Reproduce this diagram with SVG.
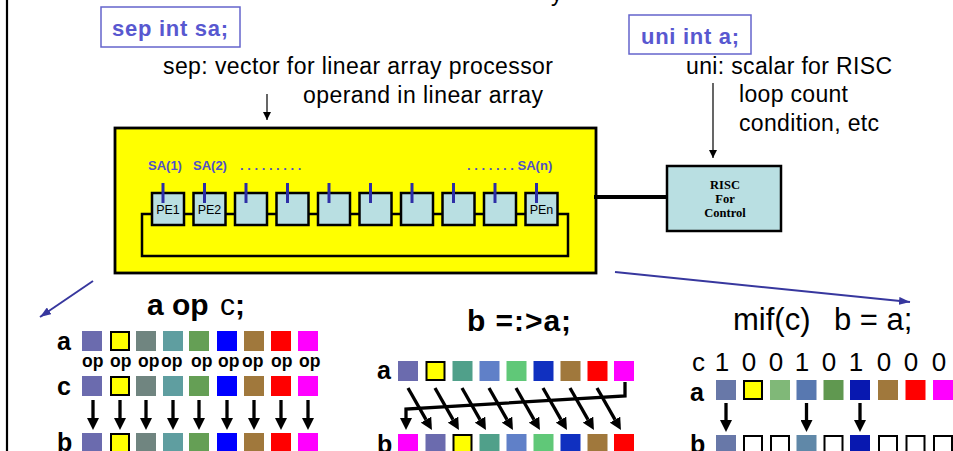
<svg xmlns="http://www.w3.org/2000/svg" width="953" height="451" viewBox="0 0 953 451">
  <style>
    .sans { font-family: "Liberation Sans", Arial, sans-serif; }
    .serif { font-family: "Liberation Serif", "Times New Roman", serif; }
    .decl-box { fill: #ffffff; stroke: #6464cc; stroke-width: 1.5; }
    .decl-text { font-family: "Liberation Sans", Arial, sans-serif; font-weight: bold; font-size: 22px; fill: #5858d0; }
    .note { font-family: "Liberation Sans", Arial, sans-serif; font-size: 23px; fill: #000; }
    .pe { fill: #b9dfe2; stroke: #000; stroke-width: 2.5; }
    .pe-label { font-family: "Liberation Sans", Arial, sans-serif; font-size: 12.5px; fill: #000; text-anchor: middle; }
    .tick { stroke: #2e2ea6; stroke-width: 3; }
    .sa { font-family: "Liberation Sans", Arial, sans-serif; font-weight: bold; font-size: 13px; fill: #5050c8; }
    .row { font-family: "Liberation Sans", Arial, sans-serif; font-weight: bold; font-size: 25px; fill: #000; }
    .title { font-family: "Liberation Sans", Arial, sans-serif; fill: #000; }
    .op { font-family: "Liberation Sans", Arial, sans-serif; font-weight: bold; font-size: 17.5px; fill: #000; }
    .digit { font-family: "Liberation Sans", Arial, sans-serif; font-size: 26px; fill: #000; text-anchor: middle; }
    .risc-text { font-family: "Liberation Serif", "Times New Roman", serif; font-weight: bold; font-size: 12.5px; text-anchor: middle; fill: #000; }
    .outlined { stroke: #000; stroke-width: 2; }
    .thin { stroke: #000; stroke-width: 1.2; fill: none; }
    .blue { stroke: #37379e; stroke-width: 2; fill: none; }
    .thick { stroke: #000; stroke-width: 3.3; fill: none; }
  </style>
  <defs>
    <marker id="head-thin" markerUnits="userSpaceOnUse" markerWidth="8" markerHeight="8" refX="8" refY="4" orient="auto">
      <path d="M0,0 L8,4 L0,8 z" fill="#000"/>
    </marker>
    <marker id="head-blue" markerUnits="userSpaceOnUse" markerWidth="11" markerHeight="8" refX="11" refY="4" orient="auto">
      <path d="M0,0 L11,4 L0,8 z" fill="#37379e"/>
    </marker>
    <marker id="head-thick" markerUnits="userSpaceOnUse" markerWidth="12" markerHeight="12" refX="0" refY="6" orient="auto">
      <path d="M0,0 L12,6 L0,12 z" fill="#000"/>
    </marker>
  </defs>

  <rect x="0" y="0" width="953" height="451" fill="#ffffff"/>
  <!-- page edge on the left -->
  <line x1="7" y1="0" x2="7" y2="451" stroke="#000" stroke-width="2.2"/>
  <!-- tail of the heading line above -->
  <text class="sans" x="551" y="0.5" font-size="23">y</text>

  <!-- declarations -->
  <g id="decl-sep">
    <rect class="decl-box" x="101" y="7" width="139" height="40"/>
    <text class="decl-text" x="112" y="36" textLength="116" lengthAdjust="spacing">sep int sa;</text>
  </g>
  <g id="decl-uni">
    <rect class="decl-box" x="629" y="15" width="122" height="39"/>
    <text class="decl-text" x="641" y="44" textLength="98" lengthAdjust="spacing">uni int a;</text>
  </g>

  <g id="note-sep">
    <text class="note" x="163" y="74" textLength="390" lengthAdjust="spacing">sep: vector for linear array processor</text>
    <text class="note" x="303" y="103" textLength="240" lengthAdjust="spacing">operand in linear array</text>
  </g>
  <g id="note-uni">
    <text class="note" x="686" y="74" textLength="206" lengthAdjust="spacing">uni: scalar for RISC</text>
    <text class="note" x="739" y="102" textLength="109" lengthAdjust="spacing">loop count</text>
    <text class="note" x="739" y="131" textLength="140" lengthAdjust="spacing">condition, etc</text>
  </g>

  <!-- linear array processor -->
  <g id="linear-array">
    <rect x="115" y="128" width="481" height="145" fill="#ffff00" stroke="#000" stroke-width="2.8"/>
    <!-- ring link: runs through every PE and loops back underneath -->
    <rect x="142" y="214" width="426" height="42" fill="none" stroke="#000" stroke-width="2.5"/>
    <g id="pe-1"><rect class="pe" x="152" y="193" width="32" height="32"/><text class="pe-label" x="168" y="214">PE1</text><line class="tick" x1="163" y1="183" x2="163" y2="203"/></g>
    <g id="pe-2"><rect class="pe" x="193.5" y="193" width="32" height="32"/><text class="pe-label" x="209.5" y="214">PE2</text><line class="tick" x1="204.5" y1="183" x2="204.5" y2="203"/></g>
    <g id="pe-3"><rect class="pe" x="235" y="193" width="32" height="32"/><line class="tick" x1="246" y1="183" x2="246" y2="203"/></g>
    <g id="pe-4"><rect class="pe" x="276.5" y="193" width="32" height="32"/><line class="tick" x1="287.5" y1="183" x2="287.5" y2="203"/></g>
    <g id="pe-5"><rect class="pe" x="318" y="193" width="32" height="32"/><line class="tick" x1="329" y1="183" x2="329" y2="203"/></g>
    <g id="pe-6"><rect class="pe" x="359.5" y="193" width="32" height="32"/><line class="tick" x1="370.5" y1="183" x2="370.5" y2="203"/></g>
    <g id="pe-7"><rect class="pe" x="401" y="193" width="32" height="32"/><line class="tick" x1="412" y1="183" x2="412" y2="203"/></g>
    <g id="pe-8"><rect class="pe" x="442.5" y="193" width="32" height="32"/><line class="tick" x1="453.5" y1="183" x2="453.5" y2="203"/></g>
    <g id="pe-9"><rect class="pe" x="484" y="193" width="32" height="32"/><line class="tick" x1="495" y1="183" x2="495" y2="203"/></g>
    <g id="pe-n"><rect class="pe" x="525.5" y="193" width="32" height="32"/><text class="pe-label" x="541.5" y="214">PEn</text><line class="tick" x1="536.5" y1="183" x2="536.5" y2="203"/></g>
    <text class="sa" x="148" y="170">SA(1)</text>
    <text class="sa" x="193" y="170">SA(2)</text>
    <text class="sa" x="240" y="170">. . . . . . . . .</text>
    <text class="sa" x="467" y="170">. . . . . . . SA(n)</text>
  </g>

  <g id="risc">
    <rect x="667" y="166" width="114" height="65" fill="#b9dfe2" stroke="#000" stroke-width="2.5"/>
    <text class="risc-text" x="725" y="189">RISC</text>
    <text class="risc-text" x="725" y="203">For</text>
    <text class="risc-text" x="725" y="217">Control</text>
  </g>

  <!-- connectors -->
  <g id="connectors">
    <line class="thin" x1="267" y1="94" x2="267" y2="120" marker-end="url(#head-thin)"/>
    <line class="thin" x1="713" y1="83" x2="713" y2="158" marker-end="url(#head-thin)"/>
    <line x1="594" y1="197" x2="667" y2="197" stroke="#000" stroke-width="4"/>
    <line class="blue" x1="93" y1="281" x2="40" y2="317" marker-end="url(#head-blue)"/>
    <line class="blue" x1="615" y1="272" x2="910" y2="302" marker-end="url(#head-blue)"/>
  </g>

  <!-- a op c; -->
  <g id="panel-op">
    <text class="title" x="147" y="315" font-size="30" font-weight="bold">a op<tspan x="220" font-weight="normal">c</tspan>;</text>
    <text class="row" x="57" y="350">a</text>
    <text class="row" x="57" y="395">c</text>
    <text class="row" x="57" y="451">b</text>
    <g id="op-row-a">
      <rect x="82" y="331" width="20" height="20" fill="#6b6bae"/>
      <rect class="outlined" x="111" y="332" width="18" height="18" fill="#ffff00"/>
      <rect x="136" y="331" width="20" height="20" fill="#708580"/>
      <rect x="163" y="331" width="20" height="20" fill="#5f9ea0"/>
      <rect x="189" y="331" width="20" height="20" fill="#659f55"/>
      <rect x="217" y="331" width="20" height="20" fill="#0000ff"/>
      <rect x="244" y="331" width="20" height="20" fill="#a0783c"/>
      <rect x="271" y="331" width="20" height="20" fill="#ff0000"/>
      <rect x="298" y="331" width="20" height="20" fill="#ff00ff"/>
    </g>
    <g id="op-labels">
      <text class="op" x="82" y="367">op</text>
      <text class="op" x="110" y="367">op</text>
      <text class="op" x="138" y="367">op</text>
      <text class="op" x="161" y="367">op</text>
      <text class="op" x="191" y="367">op</text>
      <text class="op" x="218" y="367">op</text>
      <text class="op" x="242" y="367">op</text>
      <text class="op" x="271" y="367">op</text>
      <text class="op" x="299" y="367">op</text>
    </g>
    <g id="op-row-c">
      <rect x="82" y="376" width="20" height="20" fill="#6b6bae"/>
      <rect class="outlined" x="111" y="377" width="18" height="18" fill="#ffff00"/>
      <rect x="136" y="376" width="20" height="20" fill="#708580"/>
      <rect x="163" y="376" width="20" height="20" fill="#5f9ea0"/>
      <rect x="189" y="376" width="20" height="20" fill="#659f55"/>
      <rect x="217" y="376" width="20" height="20" fill="#0000ff"/>
      <rect x="244" y="376" width="20" height="20" fill="#a0783c"/>
      <rect x="271" y="376" width="20" height="20" fill="#ff0000"/>
      <rect x="298" y="376" width="20" height="20" fill="#ff00ff"/>
    </g>
    <g id="op-arrows">
      <line class="thick" x1="93" y1="400" x2="93" y2="418" marker-end="url(#head-thick)"/>
      <line class="thick" x1="120" y1="400" x2="120" y2="418" marker-end="url(#head-thick)"/>
      <line class="thick" x1="146" y1="400" x2="146" y2="418" marker-end="url(#head-thick)"/>
      <line class="thick" x1="173" y1="400" x2="173" y2="418" marker-end="url(#head-thick)"/>
      <line class="thick" x1="199" y1="400" x2="199" y2="418" marker-end="url(#head-thick)"/>
      <line class="thick" x1="227" y1="400" x2="227" y2="418" marker-end="url(#head-thick)"/>
      <line class="thick" x1="254" y1="400" x2="254" y2="418" marker-end="url(#head-thick)"/>
      <line class="thick" x1="281" y1="400" x2="281" y2="418" marker-end="url(#head-thick)"/>
      <line class="thick" x1="308" y1="400" x2="308" y2="418" marker-end="url(#head-thick)"/>
    </g>
    <g id="op-row-b">
      <rect x="82" y="433" width="20" height="20" fill="#6b6bae"/>
      <rect class="outlined" x="111" y="434" width="18" height="18" fill="#ffff00"/>
      <rect x="136" y="433" width="20" height="20" fill="#708580"/>
      <rect x="163" y="433" width="20" height="20" fill="#5f9ea0"/>
      <rect x="189" y="433" width="20" height="20" fill="#659f55"/>
      <rect x="217" y="433" width="20" height="20" fill="#0000ff"/>
      <rect x="244" y="433" width="20" height="20" fill="#a0783c"/>
      <rect x="271" y="433" width="20" height="20" fill="#ff0000"/>
      <rect x="298" y="433" width="20" height="20" fill="#ff00ff"/>
    </g>
  </g>

  <!-- b =:> a; (rotate by one) -->
  <g id="panel-shift">
    <text class="title" x="467" y="331" font-size="30" font-weight="bold" textLength="104" lengthAdjust="spacing">b =:&gt;a;</text>
    <text class="row" x="377" y="379">a</text>
    <text class="row" x="377" y="453">b</text>
    <g id="shift-row-a">
      <rect x="398" y="361" width="20" height="20" fill="#6b6bae"/>
      <rect class="outlined" x="426.5" y="362" width="18" height="18" fill="#ffff00"/>
      <rect x="452.5" y="361" width="20" height="20" fill="#50a08a"/>
      <rect x="479.5" y="361" width="20" height="20" fill="#6080c8"/>
      <rect x="506.5" y="361" width="20" height="20" fill="#60c878"/>
      <rect x="533.5" y="361" width="20" height="20" fill="#1030c0"/>
      <rect x="560.5" y="361" width="20" height="20" fill="#a0783c"/>
      <rect x="587.5" y="361" width="20" height="20" fill="#ff0000"/>
      <rect x="614" y="361" width="20" height="20" fill="#ff00ff"/>
    </g>
    <g id="shift-arrows">
      <path class="thick" d="M625,382 V396 L406,409 V418" marker-end="url(#head-thick)"/>
      <line class="thick" x1="408" y1="388" x2="426" y2="419.6" marker-end="url(#head-thick)"/>
      <line class="thick" x1="435" y1="388" x2="453" y2="419.6" marker-end="url(#head-thick)"/>
      <line class="thick" x1="462" y1="388" x2="480" y2="419.6" marker-end="url(#head-thick)"/>
      <line class="thick" x1="489" y1="388" x2="507" y2="419.6" marker-end="url(#head-thick)"/>
      <line class="thick" x1="516" y1="388" x2="534" y2="419.6" marker-end="url(#head-thick)"/>
      <line class="thick" x1="543" y1="388" x2="561" y2="419.6" marker-end="url(#head-thick)"/>
      <line class="thick" x1="570" y1="388" x2="588" y2="419.6" marker-end="url(#head-thick)"/>
      <line class="thick" x1="597" y1="388" x2="615" y2="419.6" marker-end="url(#head-thick)"/>
    </g>
    <g id="shift-row-b">
      <rect x="398" y="434" width="20" height="20" fill="#ff00ff"/>
      <rect x="425.5" y="434" width="20" height="20" fill="#6b6bae"/>
      <rect class="outlined" x="453.5" y="435" width="18" height="18" fill="#ffff00"/>
      <rect x="479.5" y="434" width="20" height="20" fill="#50a08a"/>
      <rect x="506.5" y="434" width="20" height="20" fill="#6080c8"/>
      <rect x="533.5" y="434" width="20" height="20" fill="#60c878"/>
      <rect x="560.5" y="434" width="20" height="20" fill="#1030c0"/>
      <rect x="587.5" y="434" width="20" height="20" fill="#a0783c"/>
      <rect x="614" y="434" width="20" height="20" fill="#ff0000"/>
    </g>
  </g>

  <!-- mif(c) b = a; (masked copy) -->
  <g id="panel-mif">
    <text class="title" y="330" font-size="31"><tspan x="733">mif(c)</tspan><tspan x="834">b = a;</tspan></text>
    <text class="sans" x="692" y="371" font-size="26">c</text>
    <g id="mif-mask">
      <text class="digit" x="722" y="371">1</text>
      <text class="digit" x="749" y="371">0</text>
      <text class="digit" x="776" y="371">0</text>
      <text class="digit" x="802" y="371">1</text>
      <text class="digit" x="829" y="371">0</text>
      <text class="digit" x="856" y="371">1</text>
      <text class="digit" x="884" y="371">0</text>
      <text class="digit" x="911" y="371">0</text>
      <text class="digit" x="939" y="371">0</text>
    </g>
    <text class="row" x="690" y="401">a</text>
    <text class="row" x="690" y="453">b</text>
    <g id="mif-row-a">
      <rect x="716" y="380" width="20" height="20" fill="#6878a8"/>
      <rect class="outlined" x="744" y="381" width="18" height="18" fill="#ffff00"/>
      <rect x="770" y="380" width="20" height="20" fill="#80b878"/>
      <rect x="796.5" y="380" width="20" height="20" fill="#5878b0"/>
      <rect x="823.5" y="380" width="20" height="20" fill="#609850"/>
      <rect x="850" y="380" width="20" height="20" fill="#0818b0"/>
      <rect x="878" y="380" width="20" height="20" fill="#a0783c"/>
      <rect x="905.5" y="380" width="20" height="20" fill="#ff0000"/>
      <rect x="933" y="380" width="20" height="20" fill="#ff00ff"/>
    </g>
    <g id="mif-arrows">
      <line class="thick" x1="726" y1="403" x2="726" y2="420" marker-end="url(#head-thick)"/>
      <line class="thick" x1="806.5" y1="403" x2="806.5" y2="420" marker-end="url(#head-thick)"/>
      <line class="thick" x1="860" y1="403" x2="860" y2="420" marker-end="url(#head-thick)"/>
    </g>
    <g id="mif-row-b">
      <rect x="716" y="435" width="20" height="20" fill="#6878a8"/>
      <rect class="outlined" x="744" y="436" width="18" height="18" fill="#ffffff"/>
      <rect class="outlined" x="771" y="436" width="18" height="18" fill="#ffffff"/>
      <rect x="796.5" y="435" width="20" height="20" fill="#6088a8"/>
      <rect class="outlined" x="824.5" y="436" width="18" height="18" fill="#ffffff"/>
      <rect x="850" y="435" width="20" height="20" fill="#0818b0"/>
      <rect class="outlined" x="879" y="436" width="18" height="18" fill="#ffffff"/>
      <rect class="outlined" x="906.5" y="436" width="18" height="18" fill="#ffffff"/>
      <rect class="outlined" x="934" y="436" width="18" height="18" fill="#ffffff"/>
    </g>
  </g>
</svg>
